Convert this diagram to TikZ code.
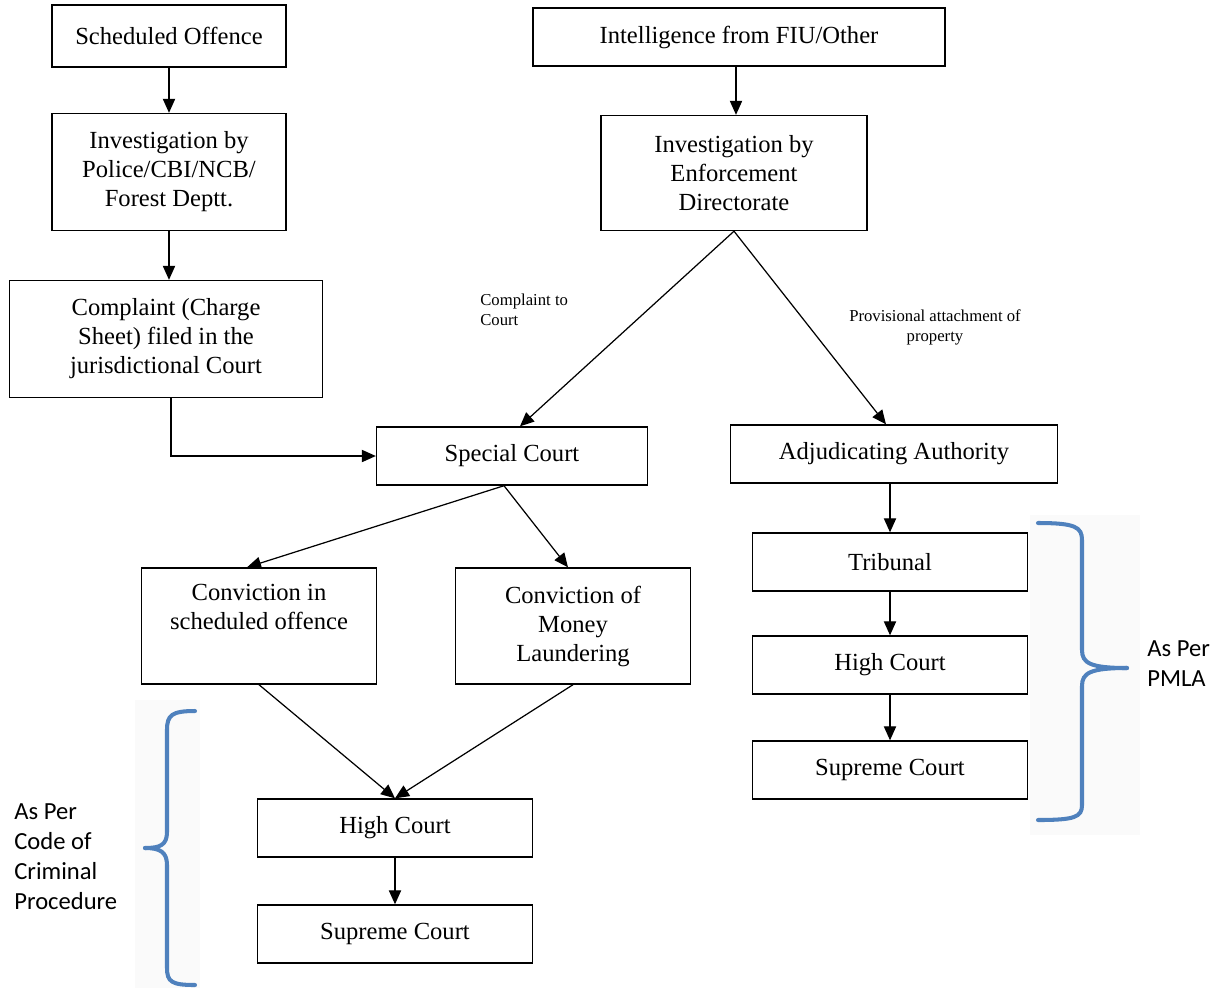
\documentclass[tikz,border=0pt]{standalone}
\usepackage{fontspec}
\setmainfont{Liberation Serif}
\newfontfamily\bracefont{Carlito}
\usepackage{tikz}
\usetikzlibrary{arrows.meta, positioning, calc}
\definecolor{BraceBlue}{HTML}{4F81BD}
\tikzset{
  stepbox/.style={rectangle, draw=black, line width=0.8pt, fill=white, inner sep=2pt, minimum width=4.7cm, minimum height=1.16cm, font=\fontsize{14}{16.5}\selectfont, align=center},
  tallbox/.style={stepbox, minimum height=2.32cm},
  arrow/.style={-{Triangle[width=7pt,length=8pt]}, line width=0.7pt},
  smalllabel/.style={font=\fontsize{9.5}{11.3}\selectfont, inner sep=0pt},
  bracelabel/.style={font=\bracefont\fontsize{14}{17.2}\selectfont, align=left, inner sep=0pt, anchor=north west},
  bracepath/.style={draw=BraceBlue, line width=2.3pt, line cap=round}
}
\begin{document}
\begin{tikzpicture}[x=0.02cm, y=-0.02cm]
  \useasboundingbox (0,0) rectangle (1220,988);
  \fill[black!2] (135,700) rectangle (200,988);
  \fill[black!2] (1030,515) rectangle (1140,835);

  \node[stepbox, minimum width=4.68cm, minimum height=1.24cm] (offence) at (169,36) {Scheduled Offence};
  \node[stepbox, minimum width=8.24cm] (intel) at (739,37) {Intelligence from FIU/Other};
  \node[tallbox, minimum width=4.68cm, minimum height=2.34cm] (police) at (169,172) {Investigation by\\Police/CBI/NCB/\\Forest Deptt.};
  \node[tallbox, minimum width=5.32cm, minimum height=2.3cm] (ed) at (734,173) {Investigation by\\Enforcement\\Directorate};
  \node[tallbox, minimum width=6.26cm, minimum height=2.34cm] (charge) at (166,339) {Complaint (Charge\\Sheet) filed in the\\jurisdictional Court};
  \node[stepbox, minimum width=5.42cm] (special) at (512,456) {Special Court};
  \node[stepbox, minimum width=6.54cm] (adjud) at (894,454) {Adjudicating Authority};
  \node[tallbox, text height=2.0cm, text depth=0pt] (convsch) at (259,626) {};
  \node[anchor=north, font=\fontsize{14}{16.5}\selectfont, align=center] (convschtext) at (259,578) {Conviction in\\scheduled offence};
  \node[tallbox] (convml) at (573,626) {Conviction of\\Money\\Laundering};
  \node[stepbox, minimum width=5.5cm] (tribunal) at (890,562) {Tribunal};
  \node[stepbox, minimum width=5.5cm] (hcpmla) at (890,665) {High Court};
  \node[stepbox, minimum width=5.5cm] (scpmla) at (890,770) {Supreme Court};
  \node[stepbox, minimum width=5.5cm] (hccrpc) at (395,828) {High Court};
  \node[stepbox, minimum width=5.5cm] (sccrpc) at (395,934) {Supreme Court};

  \node[smalllabel, align=left, anchor=north west] (cmplabel) at (480,294) {Complaint to\\Court};
  \node[smalllabel, align=center] (attlabel) at (935,327) {Provisional attachment of\\property};

  \draw[arrow] (offence) -- (police);
  \draw[arrow] ([xshift=-0.06cm]intel.south) -- ([xshift=-0.06cm]intel.south |- ed.north);
  \draw[arrow] (police.south) -- (police.south |- charge.north);
  \draw[arrow] ([xshift=0.1cm]charge.south) |- (special.west);
  \draw[arrow] (ed.south) -- ([xshift=0.16cm]special.north);
  \draw[arrow] (ed.south) -- ([xshift=-0.16cm]adjud.north);
  \draw[arrow] ([xshift=-0.16cm]special.south) -- ([xshift=-0.24cm]convsch.north);
  \draw[arrow] ([xshift=-0.16cm]special.south) -- ([xshift=-0.1cm]convml.north);
  \draw[arrow] (convsch.south) -- (hccrpc.north);
  \draw[arrow] (convml.south) -- (hccrpc.north);
  \draw[arrow] (hccrpc) -- (sccrpc);
  \draw[arrow] (tribunal.north |- adjud.south) -- (tribunal.north);
  \draw[arrow] (tribunal) -- (hcpmla);
  \draw[arrow] (hcpmla) -- (scpmla);

  \draw[bracepath] (195,711) .. controls (172,711) and (167,715) .. (167,730) -- (167,832) .. controls (167,845) and (160,848) .. (145,848);
  \draw[bracepath] (145,848) .. controls (160,848) and (167,852) .. (167,865) -- (167,968) .. controls (167,982) and (172,985) .. (195,985);
  \node[bracelabel] (crpclabel) at (14,803) {As Per\\Code of\\Criminal\\Procedure};

  \draw[bracepath] (1038,523) .. controls (1075,523) and (1082,527) .. (1082,540) -- (1082,650) .. controls (1082,663) and (1090,668) .. (1127,668);
  \draw[bracepath] (1127,668) .. controls (1090,668) and (1082,673) .. (1082,686) -- (1082,805) .. controls (1082,817) and (1075,820) .. (1038,820);
  \node[bracelabel] (pmlalabel) at (1147,640) {As Per\\PMLA};
\end{tikzpicture}
\end{document}
